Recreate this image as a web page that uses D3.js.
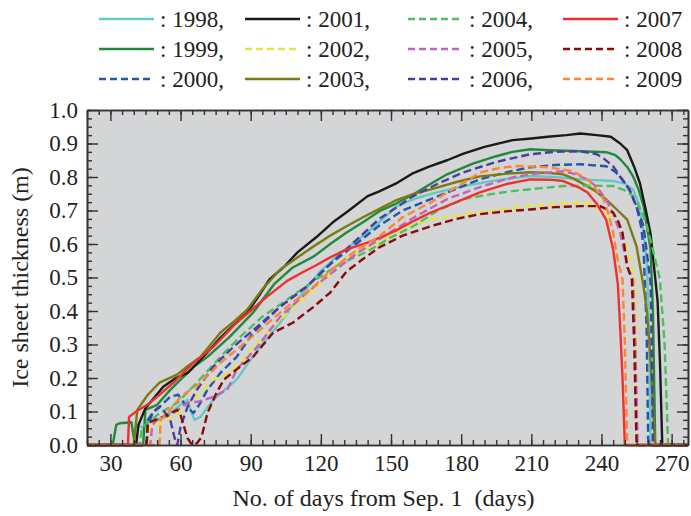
<!DOCTYPE html>
<html lang="en">
<head>
    <meta charset="UTF-8">
    <title>Ice sheet thickness</title>
    <script src="https://d3js.org/d3.v7.min.js"></script>
    <style>
        body { margin: 0; background: #fff; }
    </style>
</head>
<body>
<script>
    const width  = 691;
    const height = 516;
    const serif  = "'Liberation Serif', 'DejaVu Serif', 'Times New Roman', Times, serif";

    // [day from Sep. 1, thickness m]
    const y1998 = [[20,0],[40,0],[41,0.066],[44,0.05],[46,0.075],[50,0.075],[55.6,0.095],[60,0.12],[63,0.135],[64.5,0.1],[66,0.075],[68.5,0.084],[74,0.135],[79,0.165],[84,0.195],[89,0.245],[94,0.293],[102.6,0.365],[111,0.443],[120,0.52],[128,0.57],[135.5,0.61],[145,0.665],[152.6,0.713],[160,0.735],[170,0.755],[181,0.773],[195,0.79],[209.5,0.803],[220,0.8],[231,0.793],[245,0.788],[250,0.78],[253.5,0.763],[256,0.72],[258,0.634],[259.5,0.533],[260.5,0.3],[261,0],[277,0]];
    const y1999 = [[20,0],[31,0],[32.5,0.06],[34,0.065],[39,0.068],[40.5,0],[44,0],[45,0.105],[50,0.12],[55,0.16],[60,0.195],[66,0.235],[71.5,0.263],[81,0.323],[91,0.395],[100,0.48],[108,0.53],[117,0.563],[124,0.6],[131,0.634],[138,0.665],[145,0.698],[152,0.72],[160,0.75],[167,0.78],[174,0.808],[185,0.84],[195,0.862],[202,0.875],[209.5,0.883],[218,0.88],[231,0.877],[242,0.874],[246,0.865],[248,0.853],[251,0.83],[253.5,0.802],[256,0.76],[258,0.713],[261,0.584],[262,0.4],[263,0],[277,0]];
    const y2000 = [[20,0],[45.5,0],[46,0.06],[48,0.095],[51,0.114],[55.6,0.144],[59,0.15],[62,0.12],[65.5,0.095],[68,0.12],[71.5,0.165],[77,0.215],[84,0.263],[91,0.335],[102.6,0.413],[114,0.473],[124,0.54],[135,0.6],[145,0.655],[155,0.7],[167,0.734],[178,0.765],[188,0.793],[200,0.815],[209.5,0.829],[220,0.836],[231,0.838],[242,0.832],[246,0.815],[249,0.793],[252,0.76],[255,0.713],[257,0.65],[258,0.584],[259.3,0.35],[260,0],[277,0]];
    const y2001 = [[20,0],[41,0],[42,0.06],[45,0.11],[52.6,0.174],[58,0.2],[63,0.215],[70,0.265],[77,0.32],[83,0.36],[88.5,0.395],[93,0.44],[98,0.494],[104,0.53],[110,0.575],[118,0.62],[125,0.664],[132,0.7],[140,0.743],[145,0.757],[152,0.78],[159,0.81],[166,0.83],[174,0.85],[181,0.87],[190,0.89],[202,0.91],[210,0.915],[217,0.92],[225,0.925],[231,0.93],[238,0.925],[244,0.92],[248,0.9],[251,0.88],[254,0.83],[256.5,0.78],[259,0.7],[261,0.63],[264,0.43],[265,0.25],[266,0],[277,0]];
    const y2002 = [[20,0],[46,0],[47,0.054],[52,0.07],[58,0.09],[64,0.126],[74,0.195],[81,0.215],[86,0.25],[91,0.293],[102.6,0.374],[117,0.464],[128,0.545],[137,0.58],[145,0.604],[155,0.645],[167,0.673],[178,0.685],[188,0.694],[200,0.705],[209.5,0.713],[220,0.72],[231,0.724],[236,0.718],[239.4,0.703],[243,0.685],[246.6,0.664],[249,0.62],[251,0.584],[254.4,0.494],[254.8,0.3],[255,0],[277,0]];
    const y2003 = [[20,0],[40,0],[41.5,0.105],[46,0.15],[51,0.186],[58.5,0.21],[63,0.235],[68.5,0.263],[77,0.335],[83,0.37],[88.5,0.404],[95,0.465],[102.6,0.524],[110,0.56],[117,0.593],[124,0.625],[131,0.653],[138,0.68],[145,0.705],[152,0.73],[160,0.75],[167,0.763],[178,0.785],[188,0.802],[200,0.81],[209.5,0.814],[218,0.812],[223.6,0.808],[228,0.795],[231,0.784],[237,0.76],[242,0.733],[247,0.7],[251,0.673],[255,0.593],[258,0.473],[259.5,0.395],[261,0.25],[262.5,0.05],[263,0],[277,0]];
    const y2004 = [[20,0],[42.5,0],[43.5,0.05],[46,0.066],[51,0.095],[58.6,0.126],[67,0.186],[77,0.263],[85.5,0.323],[95,0.383],[105.6,0.434],[117,0.49],[128,0.54],[140,0.578],[150,0.62],[159.5,0.653],[170,0.7],[181,0.734],[192,0.748],[202,0.758],[213,0.766],[223.6,0.773],[235,0.774],[245,0.773],[250,0.76],[253.5,0.743],[257,0.7],[259.5,0.653],[263.7,0.533],[265,0.494],[267,0.3],[268.5,0],[277,0]];
    const y2005 = [[20,0],[47,0],[48,0.06],[50,0.075],[57,0.095],[63,0.126],[68,0.13],[74,0.144],[80,0.165],[84,0.225],[92.8,0.293],[102.6,0.383],[114,0.455],[124,0.51],[135,0.57],[145,0.614],[160,0.68],[174,0.734],[188,0.77],[202,0.799],[212,0.81],[223.6,0.817],[228,0.81],[234,0.793],[238,0.77],[242,0.733],[245,0.69],[248,0.634],[251,0.533],[253.5,0.494],[254.5,0.3],[255.5,0],[277,0]];
    const y2006 = [[20,0],[45.5,0],[46,0.075],[48.5,0.1],[51,0.114],[53,0.1],[55.6,0.075],[57.5,0.02],[58.6,0],[60,0.054],[63,0.114],[67,0.165],[74,0.234],[82.6,0.293],[92.8,0.353],[102.6,0.413],[114,0.473],[124,0.54],[135.5,0.614],[145,0.675],[159.5,0.743],[170,0.78],[181,0.814],[195,0.845],[209.5,0.868],[220,0.875],[231,0.877],[238,0.868],[241,0.855],[245,0.832],[248,0.8],[252,0.763],[255,0.71],[258,0.653],[261,0.485],[261.6,0.25],[262,0],[277,0]];
    const y2007 = [[20,0],[37.5,0],[38,0.084],[41,0.1],[45.8,0.12],[51,0.15],[57,0.186],[65.5,0.245],[74,0.293],[84,0.365],[94,0.425],[97,0.443],[105.6,0.49],[112,0.515],[117,0.533],[124,0.56],[131,0.584],[140,0.604],[145,0.618],[152,0.64],[160,0.67],[167,0.694],[178,0.725],[188,0.754],[200,0.78],[209.5,0.793],[218,0.792],[223.6,0.788],[230,0.77],[234,0.754],[238,0.72],[242,0.673],[245,0.584],[247,0.48],[248,0.35],[249,0.2],[250,0],[277,0]];
    const y2008 = [[20,0],[45.5,0],[46,0.066],[52.6,0.084],[58.6,0.105],[60,0.09],[61,0.066],[63,0.02],[65,0],[67,0.005],[69,0.024],[71.5,0.095],[75,0.15],[78.5,0.195],[85.5,0.234],[91,0.263],[99.6,0.335],[108,0.365],[117,0.413],[124,0.455],[131,0.518],[138,0.555],[145,0.59],[155,0.625],[167,0.653],[178,0.675],[188,0.689],[200,0.698],[209.5,0.703],[220,0.71],[231,0.713],[239.4,0.713],[242,0.705],[245,0.694],[247,0.67],[249,0.634],[251,0.533],[253,0.494],[254,0.3],[255,0],[277,0]];
    const y2009 = [[20,0],[51,0],[51.5,0.075],[55,0.1],[60,0.144],[68.5,0.186],[77,0.245],[85.5,0.293],[94,0.344],[105.6,0.413],[117,0.473],[124,0.52],[135,0.58],[145,0.623],[155,0.68],[167,0.724],[178,0.77],[188,0.813],[197,0.828],[205,0.833],[217,0.829],[228,0.817],[232,0.8],[235,0.788],[238,0.76],[241,0.733],[243,0.69],[245,0.634],[247,0.55],[249,0.494],[250,0.3],[251,0],[277,0]];

    const years  = ["1998","1999","2000","2001","2002","2003","2004","2005","2006","2007","2008","2009"];
    const values = [y1998,y1999,y2000,y2001,y2002,y2003,y2004,y2005,y2006,y2007,y2008,y2009];
    const colors = ["#63c9c6","#1f8a3c","#2456ac","#1a1a1a","#e6e640","#7b7b12","#4cc05c","#c163bf","#4b3ea3","#f0302e","#8b0b0b","#ff8433"];
    const dashed = [false,false,true,false,true,false,true,true,true,false,true,true];

    const xTicks = [30,60,90,120,150,180,210,240,270];
    const yTicks = [0,0.1,0.2,0.3,0.4,0.5,0.6,0.7,0.8,0.9,1.0];

    const mLeft = 87, mRight = 688, mTop = 110, mBottom = 445;

    const scaleX = d3.scaleLinear().domain([20,277]).range([mLeft,mRight]);
    const scaleY = d3.scaleLinear().domain([0,1]).range([mBottom,mTop]);

    const svg = d3.select("body").append("svg")
                  .attr("width",width).attr("height",height)
                  .style("font-family",serif);

    svg.append("rect")
       .attr("x",mLeft).attr("y",mTop)
       .attr("width",mRight-mLeft).attr("height",mBottom-mTop)
       .attr("fill","#d4d5d7");

    svg.append("clipPath").attr("id","plot")
       .append("rect").attr("x",mLeft).attr("y",mTop-2).attr("width",mRight-mLeft).attr("height",mBottom-mTop+4);

    const line = d3.line()
                   .x(d => scaleX(d[0]))
                   .y(d => scaleY(d[1]));

    const lines = svg.append("g").attr("clip-path","url(#plot)");
    values.forEach((v,i) => {
        lines.append("path")
             .attr("d", line(v))
             .attr("fill","none")
             .attr("stroke", colors[i])
             .attr("stroke-width", 2.4)
             .attr("stroke-linejoin","round")
             .attr("stroke-dasharray", dashed[i] ? "8,4" : null);
    });

    // axes, ticks pointing inward on all four sides
    const minorX = d3.range(20,277,5);
    const minorY = d3.range(0,1.0001,0.025);

    const axisStyle = g => {
        g.attr("font-family",null).attr("font-size",null);
        g.selectAll(".domain").attr("stroke","#333").attr("stroke-width",1.6);
        g.selectAll(".tick line").attr("stroke","#333").attr("stroke-width",1.4);
        g.selectAll("text").style("font-family",serif).style("font-size","23px").attr("fill","#222");
    };

    svg.append("g").attr("transform",`translate(0,${mBottom})`)
       .call(d3.axisBottom(scaleX).tickValues(minorX).tickSize(-5).tickFormat("").tickSizeOuter(0)).call(axisStyle);
    svg.append("g").attr("transform",`translate(0,${mBottom})`)
       .call(d3.axisBottom(scaleX).tickValues(xTicks).tickSizeInner(-11).tickSizeOuter(0).tickPadding(10))
       .call(axisStyle);

    svg.append("g").attr("transform",`translate(0,${mTop})`)
       .call(d3.axisTop(scaleX).tickValues(minorX).tickSize(-5).tickFormat("").tickSizeOuter(0)).call(axisStyle);
    svg.append("g").attr("transform",`translate(0,${mTop})`)
       .call(d3.axisTop(scaleX).tickValues(xTicks).tickSize(-11).tickFormat("").tickSizeOuter(0)).call(axisStyle);

    svg.append("g").attr("transform",`translate(${mLeft},0)`)
       .call(d3.axisLeft(scaleY).tickValues(minorY).tickSize(-5).tickFormat("").tickSizeOuter(0)).call(axisStyle);
    svg.append("g").attr("transform",`translate(${mLeft},0)`)
       .call(d3.axisLeft(scaleY).tickValues(yTicks).tickSizeInner(-11).tickSizeOuter(0).tickPadding(9).tickFormat(d3.format(".1f")))
       .call(axisStyle);

    svg.append("g").attr("transform",`translate(${mRight},0)`)
       .call(d3.axisRight(scaleY).tickValues(minorY).tickSize(-5).tickFormat("").tickSizeOuter(0)).call(axisStyle);
    svg.append("g").attr("transform",`translate(${mRight},0)`)
       .call(d3.axisRight(scaleY).tickValues(yTicks).tickSize(-11).tickFormat("").tickSizeOuter(0)).call(axisStyle);

    svg.append("text")
       .attr("x",(mLeft+mRight)/2 - 4).attr("y",506)
       .attr("text-anchor","middle")
       .attr("fill","#222")
       .style("font-size","24px")
       .style("white-space","pre")
       .text("No. of days from Sep. 1  (days)");

    svg.append("text")
       .attr("transform",`translate(28,${(mTop+mBottom)/2}) rotate(-90)`)
       .attr("text-anchor","middle")
       .attr("fill","#222")
       .style("font-size","24px")
       .text("Ice sheet thickness (m)");

    // legend: 3 rows x 4 columns, filled column by column
    const colX = [99,245,408,563];
    const rowY = [19,49,79];
    const legend = svg.append("g");
    years.forEach((yr,i) => {
        const cx = colX[Math.floor(i/3)];
        const cy = rowY[i%3];
        legend.append("line")
              .attr("x1",cx).attr("x2",cx+55).attr("y1",cy).attr("y2",cy)
              .attr("stroke",colors[i]).attr("stroke-width",2.4)
              .attr("stroke-dasharray", dashed[i] ? "7,4" : null);
        legend.append("text")
              .attr("x",cx+61).attr("y",cy+8)
              .attr("fill","#222")
              .style("font-size","23px")
              .text(": " + yr + (i < 9 ? "," : ""));
    });
</script>
</body>
</html>
